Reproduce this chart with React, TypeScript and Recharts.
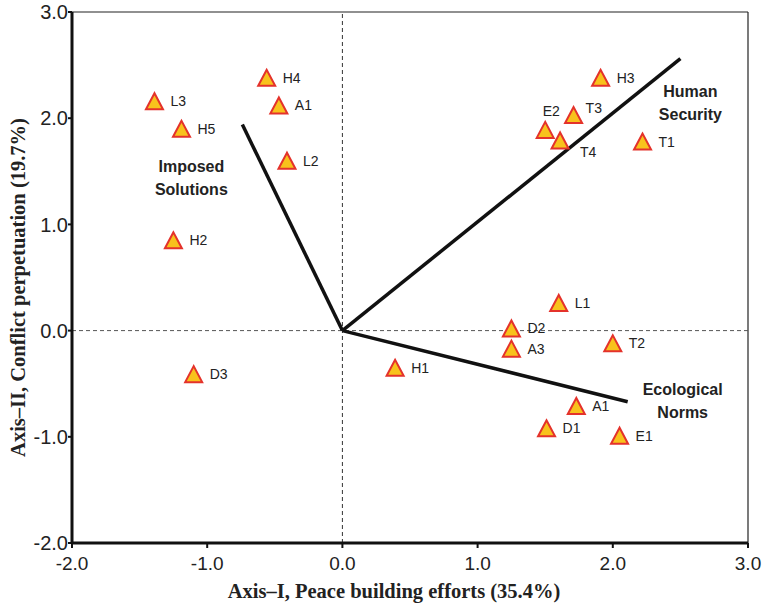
import { ScatterChart, Scatter, XAxis, YAxis, ReferenceLine, Label } from "recharts";

// sites (ordination scores)
const siteNames = ["L3", "H5", "H4", "A1", "L2", "H2", "D3", "H3", "T3", "E2", "T4", "T1", "L1", "D2", "A3", "T2", "H1", "A1", "D1", "E1"];
const axisIScores = [-1.39, -1.19, -0.56, -0.47, -0.41, -1.25, -1.10, 1.91, 1.71, 1.50, 1.61, 2.22, 1.60, 1.25, 1.25, 2.00, 0.39, 1.73, 1.51, 2.05];
const axisIIScores = [2.16, 1.90, 2.38, 2.12, 1.60, 0.85, -0.41, 2.38, 2.03, 1.89, 1.79, 1.78, 0.26, 0.02, -0.17, -0.12, -0.35, -0.71, -0.92, -0.99];

// environmental vectors
const vectorNames = ["Imposed Solutions", "Human Security", "Ecological Norms"];
const vectorI = [-0.74, 2.50, 2.11];
const vectorII = [1.94, 2.56, -0.67];

const axisTicks = [-2, -1, 0, 1, 2, 3];

const sites = siteNames.map((name, i) => ({ name, x: axisIScores[i], y: axisIIScores[i] }));
const vectors = vectorNames.map((name, i) => [
  { x: 0, y: 0 },
  { x: vectorI[i], y: vectorII[i], name },
]);

// label placement tweaks
const siteLabelOffset: Record<string, { dx: number; dy: number; anchor: string }> = {
  E2: { dx: 6, dy: -14, anchor: "middle" },
  T3: { dx: 12, dy: -2, anchor: "start" },
  T4: { dx: 20, dy: 16, anchor: "start" },
};
const vectorLabelOffset: Record<string, { dx: number; dy: number }> = {
  "Imposed Solutions": { dx: -51, dy: 47 },
  "Human Security": { dx: 10, dy: 38 },
  "Ecological Norms": { dx: 55, dy: -7 },
};

const sans = "'Liberation Sans', Arial, Helvetica, sans-serif";
const serif = "'Liberation Serif', 'Times New Roman', serif";

const SiteMarker = (props: any) => {
  const { cx, cy, payload } = props;
  const off = siteLabelOffset[payload.name] || { dx: 16, dy: 5, anchor: "start" };
  return (
    <g>
      <polygon
        points={`${cx},${cy - 8} ${cx - 8.5},${cy + 8} ${cx + 8.5},${cy + 8}`}
        fill="#F8C21C"
        stroke="#E4322B"
        strokeWidth={2}
      />
      <text x={cx + off.dx} y={cy + off.dy} textAnchor={off.anchor} fontSize={14} fontFamily={sans} fill="#222">
        {payload.name}
      </text>
    </g>
  );
};

const VectorEnd = (props: any) => {
  const { cx, cy, payload } = props;
  if (!payload.name) return <g />;
  const off = vectorLabelOffset[payload.name];
  const words = payload.name.split(" ");
  return (
    <text x={cx + off.dx} y={cy + off.dy} textAnchor="middle" fontSize={16} fontWeight="bold" fontFamily={sans} fill="#222">
      {words.map((w: string, i: number) => (
        <tspan key={w} x={cx + off.dx} dy={i === 0 ? 0 : 23}>
          {w}
        </tspan>
      ))}
    </text>
  );
};

const App = () => {
  return (
    <div style={{ position: "absolute", left: 0, top: 0, background: "#fff" }}>
      <ScatterChart width={763} height={604} margin={{ top: 12, right: 15, bottom: 0, left: 0 }}>
        <XAxis
          type="number"
          dataKey="x"
          domain={[-2, 3]}
          ticks={axisTicks}
          allowDataOverflow
          tickFormatter={(v: number) => v.toFixed(1)}
          axisLine={{ stroke: "#111", strokeWidth: 3 }}
          tickLine={{ stroke: "#111", strokeWidth: 2 }}
          tickSize={5}
          tickMargin={9}
          tick={{ fill: "#222", fontSize: 19, fontFamily: sans }}
          height={61}
        >
          <Label
            content={({ viewBox }: any) => (
              <text
                x={viewBox.x + viewBox.width / 2 - 16}
                y={viewBox.y + 55}
                textAnchor="middle"
                fontSize={20.5}
                fontWeight="bold"
                fontFamily={serif}
                fill="#222"
              >
                Axis–I, Peace building efforts (35.4%)
              </text>
            )}
          />
        </XAxis>
        <YAxis
          type="number"
          dataKey="y"
          domain={[-2, 3]}
          ticks={axisTicks}
          allowDataOverflow
          tickFormatter={(v: number) => v.toFixed(1)}
          axisLine={{ stroke: "#111", strokeWidth: 3 }}
          tickLine={{ stroke: "#111", strokeWidth: 2 }}
          tickSize={4}
          tickMargin={0}
          tick={{ fill: "#222", fontSize: 20, fontFamily: sans }}
          width={72}
        >
          <Label
            content={({ viewBox }: any) => {
              const cx = viewBox.x + 18;
              const cy = viewBox.y + viewBox.height / 2 + 10;
              return (
                <text
                  x={cx}
                  y={cy}
                  transform={`rotate(-90, ${cx}, ${cy})`}
                  textAnchor="middle"
                  dominantBaseline="central"
                  fontSize={20.5}
                  fontWeight="bold"
                  fontFamily={serif}
                  fill="#222"
                >
                  Axis–II, Conflict perpetuation (19.7%)
                </text>
              );
            }}
          />
        </YAxis>
        <ReferenceLine y={3} stroke="#222" strokeWidth={1.2} />
        <ReferenceLine x={3} stroke="#222" strokeWidth={1.2} />
        <ReferenceLine x={0} stroke="#333" strokeWidth={1} strokeDasharray="4 3" />
        <ReferenceLine y={0} stroke="#555" strokeWidth={1} strokeDasharray="4 3" />
        {vectors.map((v, i) => (
          <Scatter
            key={vectorNames[i]}
            data={v}
            line={{ stroke: "#111", strokeWidth: 3.5 }}
            shape={VectorEnd}
            isAnimationActive={false}
          />
        ))}
        <Scatter data={sites} shape={SiteMarker} isAnimationActive={false} />
      </ScatterChart>
    </div>
  );
};

export default App;
